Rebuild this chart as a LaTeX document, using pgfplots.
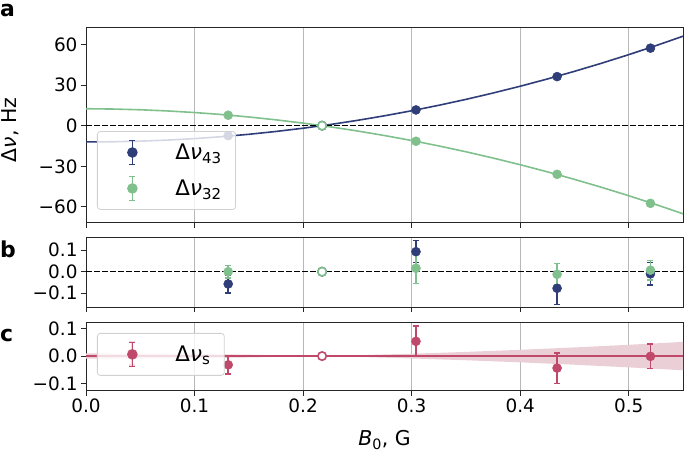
\documentclass[border=0pt]{standalone}
\usepackage{fontspec}
\setmainfont{DejaVu Sans}
\usepackage{pgfplots}
\pgfplotsset{compat=1.18}
\definecolor{cBlue}{HTML}{2F3D78}
\definecolor{cGreen}{HTML}{80C08C}
\definecolor{cRed}{HTML}{C0486A}
\definecolor{cBand}{HTML}{EBCFD7}

\pgfplotsset{
 common/.style={
   scale only axis, width=597bp, xmin=0, xmax=0.55,
   xtick={0,0.1,0.2,0.3,0.4,0.5},
   xmajorgrids, grid style={line width=0.9bp, color=black!28},
   axis line style={line width=1bp, black!85},
   tick style={line width=1bp, black!85},
   tick align=outside, tick pos=left, major tick length=5bp,
   tick label style={font=\fontsize{18.5}{20}\selectfont},
   legend style={inner xsep=0pt, inner ysep=3bp, draw=black!18, line width=0.8bp,
     rounded corners=3bp, fill=white, fill opacity=0.8, text opacity=1,
     font=\fontsize{21.5}{23}\selectfont, row sep=0pt, nodes={inner sep=0pt}},
   legend cell align=left,
 },
 legErr/.style={color=#1, line width=1.5bp, legend image code/.code={
   \path[draw=none, fill=none] (0bp,-18bp) rectangle (78bp,18bp);
   \draw[rounded corners=0pt] (35bp,-12bp) -- (35bp,12bp);
   \draw[rounded corners=0pt] (32bp,-12bp) -- (38bp,-12bp);
   \draw[rounded corners=0pt] (32bp,12bp) -- (38bp,12bp);
   \fill[fill opacity=1] (35bp,0bp) circle (4.5bp);
 }},
 pts/.style={color=#1, only marks, mark=*, mark size=4.5bp,
   mark options={fill=#1, draw=#1, line width=0.5bp}, forget plot},
 errpts/.style={color=#1, only marks, mark=*, mark size=4.5bp,
   mark options={fill=#1, draw=#1, line width=0.5bp}, forget plot,
   error bars/.cd, y dir=both, y explicit,
   error bar style={line width=1.5bp, color=#1},
   error mark options={rotate=90, mark size=3bp, line width=1.5bp, color=#1}},
 openpt/.style={only marks, mark=*, mark size=4.2bp,
   mark options={fill=white, draw=#1, line width=1.6bp}, forget plot},
 zeroline/.style={black, line width=1.5bp, dash pattern=on 5.5bp off 2.5bp, forget plot},
}

\begin{document}
\begin{tikzpicture}
\useasboundingbox (0,0) rectangle (685bp,-452bp);

% ---------------- panel a ----------------
\begin{axis}[common, at={(86bp,-27bp)}, anchor=north west, height=196bp,
  ymin=-71.8, ymax=72.8,
  ytick={-60,-30,0,30,60}, yticklabels={−60,−30,0,30,60},
  xticklabels={},
  ylabel={Δ\textit{ν}, Hz},
  ylabel style={at={(axis description cs:-0.1424,0.475)}, anchor=north,
    inner sep=0pt, font=\fontsize{20.5}{22}\selectfont},
  legend style={at={(axis description cs:0.0184,0.469)}, anchor=north west},
]
\addlegendimage{legErr=cBlue}
\addlegendentry{Δ\textit{ν}\textsubscript{43}\rule{14bp}{0pt}}
\addlegendimage{legErr=cGreen}
\addlegendentry{Δ\textit{ν}\textsubscript{32}\rule{14bp}{0pt}}

\addplot[cBlue, line width=1.6bp, forget plot] table {
x y
0 -12.00
0.025 -11.875
0.05 -11.42
0.075 -10.65
0.1 -9.545
0.125 -8.117
0.15 -6.363
0.175 -4.283
0.2 -1.878
0.225 0.853
0.25 3.91
0.275 7.293
0.3 11.001
0.325 15.035
0.35 19.395
0.375 24.081
0.4 29.092
0.425 34.429
0.45 40.092
0.475 46.081
0.5 52.395
0.525 59.035
0.55 66.001
};
\addplot[cGreen, line width=1.6bp, forget plot] table {
x y
0 12.5
0.025 12.27
0.05 11.728
0.075 10.871
0.1 9.701
0.125 8.217
0.15 6.42
0.175 4.309
0.2 1.884
0.225 -0.855
0.25 -3.906
0.275 -7.272
0.3 -10.951
0.325 -14.944
0.35 -19.25
0.375 -23.87
0.4 -28.804
0.425 -34.052
0.45 -39.612
0.475 -45.487
0.5 -51.675
0.525 -58.178
0.55 -64.992
};
\addplot[zeroline] coordinates {(0,0) (0.55,0)};
\addplot[pts=cBlue] coordinates {(0.131,-7.4) (0.304,11.6) (0.434,36.2) (0.520,57.2)};
\addplot[pts=cGreen] coordinates {(0.131,7.7) (0.304,-11.5) (0.434,-35.9) (0.520,-57.3)};
\addplot[openpt=cBlue] coordinates {(0.2175,0)};
\addplot[openpt=cGreen] coordinates {(0.2175,0)};
\end{axis}

% ---------------- panel b ----------------
\begin{axis}[common, at={(86bp,-237.7bp)}, anchor=north west, height=69.3bp,
  ymin=-0.164, ymax=0.158,
  ytick={-0.1,0,0.1}, yticklabels={−0.1,0.0,0.1},
  xticklabels={},
]
\addplot[zeroline] coordinates {(0,0) (0.55,0)};
\addplot[errpts=cBlue] table[x=x, y=y, y error=e] {
x y e
0.131 -0.057 0.041
0.304 0.093 0.051
0.434 -0.077 0.075
0.520 -0.010 0.052
};
\addplot[errpts=cGreen] table[x=x, y=y, y error=e] {
x y e
0.131 0.000 0.030
0.304 0.016 0.070
0.434 -0.012 0.049
0.520 0.007 0.045
};
\addplot[openpt=cBlue] coordinates {(0.2175,0)};
\addplot[openpt=cGreen] coordinates {(0.2175,0)};
\end{axis}

% ---------------- panel c ----------------
\begin{axis}[common, at={(86bp,-322bp)}, anchor=north west, height=68.7bp,
  ymin=-0.127, ymax=0.125,
  ytick={-0.1,0,0.1}, yticklabels={−0.1,0.0,0.1},
  xticklabels={0.0,0.1,0.2,0.3,0.4,0.5},
  xlabel={\textit{B}\textsubscript{0}, G},
  xlabel style={at={(axis description cs:0.5,0)}, anchor=base, yshift=-55bp,
    font=\fontsize{20.5}{22}\selectfont},
  legend style={at={(axis description cs:0.0184,0.84)}, anchor=north west},
]
\addlegendimage{legErr=cRed}
\addlegendentry{Δ\textit{ν}\textsubscript{s}\rule{14bp}{0pt}}
\addplot[fill=cBand, draw=none, forget plot] coordinates {
(0,0.0097) (0.05,0.0091) (0.1,0.0076) (0.15,0.0051) (0.2175,0) (0.25,0.0031)
(0.3,0.0087) (0.35,0.0153) (0.4,0.0230) (0.45,0.0317) (0.5,0.0414) (0.55,0.0521)
(0.55,-0.0521) (0.5,-0.0414) (0.45,-0.0317) (0.4,-0.0230) (0.35,-0.0153) (0.3,-0.0087)
(0.25,-0.0031) (0.2175,0) (0.15,-0.0051) (0.1,-0.0076) (0.05,-0.0091) (0,-0.0097)} -- cycle;
\addplot[cRed, line width=1.6bp, forget plot] coordinates {(0,0) (0.55,0)};
\addplot[errpts=cRed] table[x=x, y=y, y error=e] {
x y e
0.042 0.010 0.043
0.131 -0.032 0.034
0.304 0.054 0.056
0.434 -0.044 0.056
0.520 -0.001 0.045
};
\addplot[openpt=cRed] coordinates {(0.2175,0)};
\end{axis}

% panel letters
\node[anchor=base west, inner sep=0pt, font=\fontsize{22}{24}\selectfont\bfseries] at (0bp,-16.5bp) {a};
\node[anchor=base west, inner sep=0pt, font=\fontsize{22}{24}\selectfont\bfseries] at (0bp,-257bp) {b};
\node[anchor=base west, inner sep=0pt, font=\fontsize{22}{24}\selectfont\bfseries] at (0bp,-341bp) {c};
\end{tikzpicture}
\end{document}
